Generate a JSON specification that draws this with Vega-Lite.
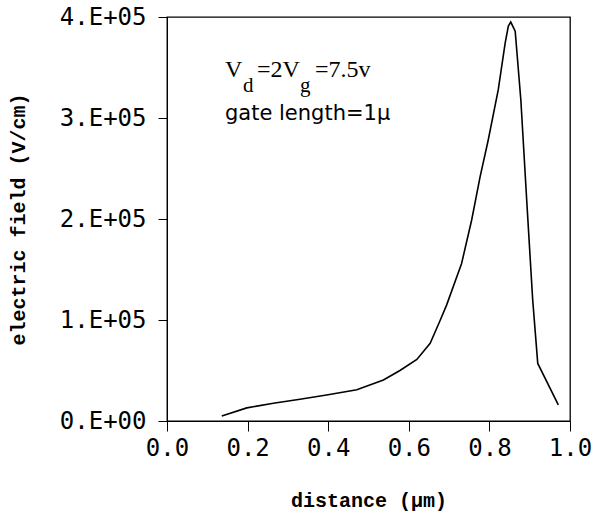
{
  "$schema": "https://vega.github.io/schema/vega-lite/v6.json",
  "width": 403,
  "height": 404,
  "autosize": "none",
  "padding": {"left": 167, "top": 17, "right": 24, "bottom": 94},
  "background": "white",
  "config": {
    "view": {"stroke": "black", "strokeWidth": 1.3},
    "axis": {"grid": false, "domainColor": "black", "tickColor": "black", "labelColor": "black", "titleColor": "black"}
  },
  "datasets": {
    "curve": [
      {"x": 0.136, "y": 5000},
      {"x": 0.198, "y": 13000},
      {"x": 0.264, "y": 17500},
      {"x": 0.330, "y": 21500},
      {"x": 0.396, "y": 25700},
      {"x": 0.471, "y": 31000},
      {"x": 0.537, "y": 40600},
      {"x": 0.578, "y": 50000},
      {"x": 0.620, "y": 61000},
      {"x": 0.653, "y": 77000},
      {"x": 0.675, "y": 97000},
      {"x": 0.694, "y": 115000},
      {"x": 0.731, "y": 156000},
      {"x": 0.756, "y": 199000},
      {"x": 0.777, "y": 242000},
      {"x": 0.797, "y": 278000},
      {"x": 0.822, "y": 328000},
      {"x": 0.839, "y": 374000},
      {"x": 0.847, "y": 391000},
      {"x": 0.853, "y": 395000},
      {"x": 0.864, "y": 386000},
      {"x": 0.878, "y": 318000},
      {"x": 0.8925, "y": 219000},
      {"x": 0.9074, "y": 120000},
      {"x": 0.920, "y": 57000},
      {"x": 0.971, "y": 16000}
    ],
    "main": [
      {"x": 0.1439, "y": 341000, "t": "V"},
      {"x": 0.2233, "y": 341000, "t": "=2V"},
      {"x": 0.367, "y": 341000, "t": "=7.5v"}
    ],
    "sub": [
      {"x": 0.1886, "y": 326000, "t": "d"},
      {"x": 0.330, "y": 326000, "t": "g"}
    ],
    "gate": [
      {"x": 0.1439, "y": 298000, "t": "gate length=1μ"}
    ]
  },
  "layer": [
    {
      "data": {"name": "curve"},
      "mark": {"type": "line", "color": "black", "strokeWidth": 1.6},
      "encoding": {
        "x": {
          "field": "x", "type": "quantitative",
          "scale": {"domain": [0, 1], "nice": false, "zero": false},
          "axis": {
            "values": [0, 0.2, 0.4, 0.6, 0.8, 1.0],
            "format": ".1f",
            "labelFont": "DejaVu Sans Mono", "labelFontSize": 24,
            "tickSize": 10, "labelPadding": 5,
            "labelFlush": false,
            "title": "distance (μm)",
            "titleFont": "Liberation Mono", "titleFontSize": 20, "titleFontWeight": "bold",
            "titleY": 85, "titleBaseline": "alphabetic"
          }
        },
        "y": {
          "field": "y", "type": "quantitative",
          "scale": {"domain": [0, 400000], "nice": false},
          "axis": {
            "values": [0, 100000, 200000, 300000, 400000],
            "labelExpr": "datum.value == 0 ? '0.E+00' : format(datum.value/100000, 'd') + '.E+05'",
            "labelFont": "DejaVu Sans Mono", "labelFontSize": 24,
            "tickSize": 9, "labelPadding": 12,
            "labelFlush": false,
            "title": "electric field (V/cm)",
            "titleFont": "Liberation Mono", "titleFontSize": 20, "titleFontWeight": "bold",
            "titleX": -149, "titleY": 202, "titleAngle": -90, "titleBaseline": "middle", "titleAlign": "center"
          }
        }
      }
    },
    {
      "data": {"name": "main"},
      "mark": {"type": "text", "font": "Liberation Serif", "fontSize": 24, "align": "left", "baseline": "alphabetic", "color": "black"},
      "encoding": {
        "x": {"field": "x", "type": "quantitative"},
        "y": {"field": "y", "type": "quantitative"},
        "text": {"field": "t"}
      }
    },
    {
      "data": {"name": "sub"},
      "mark": {"type": "text", "font": "Liberation Serif", "fontSize": 21, "align": "left", "baseline": "alphabetic", "color": "black"},
      "encoding": {
        "x": {"field": "x", "type": "quantitative"},
        "y": {"field": "y", "type": "quantitative"},
        "text": {"field": "t"}
      }
    },
    {
      "data": {"name": "gate"},
      "mark": {"type": "text", "font": "DejaVu Sans", "fontSize": 21, "align": "left", "baseline": "alphabetic", "color": "black"},
      "encoding": {
        "x": {"field": "x", "type": "quantitative"},
        "y": {"field": "y", "type": "quantitative"},
        "text": {"field": "t"}
      }
    }
  ]
}
